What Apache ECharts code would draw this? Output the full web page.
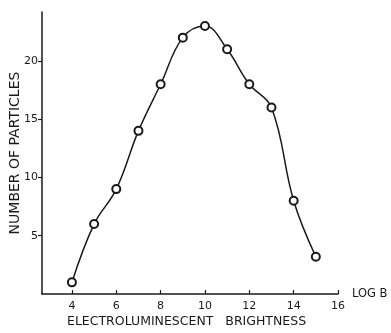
<!DOCTYPE html>
<html>
<head>
<meta charset="utf-8">
<script src="https://cdn.jsdelivr.net/npm/echarts@6/dist/echarts.min.js"></script>
<style>
html,body{margin:0;padding:0;background:#fff;}
#c{width:391px;height:333px;}
</style>
</head>
<body>
<div id="c"></div>
<script>
var logB = [4, 5, 6, 7, 8, 9, 10, 11, 12, 13, 14, 15];
var particles = [1, 6, 9, 14, 18, 22, 23, 21, 18, 16, 8, 3.2];
var xTicks = [4, 6, 8, 10, 12, 14, 16];
var yTicks = [5, 10, 15, 20];
var xTitle = 'ELECTROLUMINESCENT   BRIGHTNESS';
var yTitle = 'NUMBER OF PARTICLES';
var xUnit = 'LOG B';

var ink = '#1a1a1a';
var font = 'DejaVu Sans';
var chart = echarts.init(document.getElementById('c'), null, {renderer: 'canvas'});
chart.setOption({
  animation: false,
  backgroundColor: '#fff',
  title: {
    text: xTitle,
    left: 62,
    bottom: 0,
    textStyle: {fontFamily: font, fontSize: 12.5, fontWeight: 'normal', color: ink}
  },
  grid: {left: 42, top: 12, right: 53, bottom: 39, containLabel: false, outerBoundsMode: 'none'},
  xAxis: {
    type: 'value',
    min: 2.65,
    max: 16,
    name: xUnit,
    nameLocation: 'end',
    nameGap: 14,
    nameTextStyle: {fontFamily: font, fontSize: 11.5, color: ink},
    axisLine: {lineStyle: {color: ink, width: 1.5}},
    axisTick: {inside: true, length: 4, customValues: xTicks, lineStyle: {color: ink, width: 1.2}},
    axisLabel: {customValues: xTicks, fontFamily: font, fontSize: 11, color: ink, margin: 7},
    splitLine: {show: false}
  },
  yAxis: {
    type: 'value',
    min: 0,
    max: 24.2,
    name: yTitle,
    nameLocation: 'middle',
    nameRotate: 90,
    nameGap: 20,
    nameMoveOverlap: false,
    nameTextStyle: {fontFamily: font, fontSize: 14, color: ink},
    axisLine: {show: true, lineStyle: {color: ink, width: 1.5}},
    axisTick: {show: true, inside: false, length: 4, customValues: yTicks, lineStyle: {color: ink, width: 1.2}},
    axisLabel: {customValues: yTicks, fontFamily: font, fontSize: 11, color: ink, margin: 4},
    splitLine: {show: false}
  },
  series: [{
    type: 'line',
    data: logB.map(function (x, i) { return [x, particles[i]]; }),
    smooth: 0.4,
    symbol: 'emptyCircle',
    symbolSize: 8,
    lineStyle: {color: ink, width: 1.5},
    itemStyle: {color: ink, borderColor: ink, borderWidth: 1.5}
  }]
});
</script>
</body>
</html>
